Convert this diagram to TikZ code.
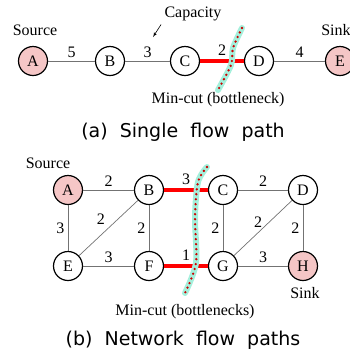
\documentclass[tikz,border=0pt]{standalone}
\usepackage{fontspec}
\setmainfont{Liberation Serif}
\newfontfamily\capfont[WordSpace=2]{DejaVu Sans}
\usetikzlibrary{arrows}
\definecolor{srcpink}{RGB}{245,198,198}
\definecolor{glow}{RGB}{165,240,220}
\tikzset{circ/.style = {draw, circle, line width = 1.2bp, inner sep = 0, minimum size = 29bp}}
\tikzset{src/.style = {circ, fill = srcpink}}
\tikzset{edge/.style = {draw = black!55, line width = 0.7bp}}
\tikzset{neck/.style = {draw = red, line width = 4.5bp}}
\tikzset{cutglow/.style = {draw = glow, line width = 6bp, line cap = round}}
\tikzset{cutdots/.style = {draw = red!80!black, line width = 2.6bp, line cap = round,
                           dash pattern = on 0pt off 5bp}}
\tikzset{capt/.style = {font = {\capfont\fontsize{19bp}{22bp}\selectfont}}}

\begin{document}
\begin{tikzpicture}[x = 1bp, y = -1bp, font = \fontsize{16bp}{19bp}\selectfont]
    \useasboundingbox (0, 0) rectangle (350, 353);
    % (a) single path
    \foreach \n/\x/\s in {A/33/src, B/110/circ, C/185/circ, D/259/circ, E/340/src} {
      \node [\s] (a\n) at (\x, 61) {\n};
    }
    \foreach \u/\v/\w in {A/B/5, B/C/3, D/E/4} {
      \draw [edge] (a\u) -- node [above] {\w} (a\v);
    }
    \draw [neck] (aC) -- node [above] {2} (aD);
    \draw [cutglow] plot [smooth] coordinates {(242, 28) (233, 48) (231, 65) (218, 90)};
    \draw [cutdots] plot [smooth] coordinates {(242, 28) (233, 48) (231, 65) (218, 90)};
    \node (srca) at (35, 30) {Source};
    \node (sinka) at (336, 30) {Sink};
    \node (cap) at (193, 14) {Capacity};
    \coordinate (captip) at (153, 37);
    \draw [-latex', line width = 0.6bp] (cap.south west) -- (captip);
    \node (cuta) at (218, 100) {Min-cut (bottleneck)};
    \node [capt] (capa) at (183, 132) {(a) Single flow path};
    % (b) network
    \foreach \n/\x/\y/\s in {A/68/190/src, B/149/190/circ, C/223/190/circ, D/303/190/circ,
                             E/68/266/circ, F/149/266/circ, G/223/266/circ, H/303/266/src} {
      \node [\s] (b\n) at (\x, \y) {\n};
    }
    \foreach \u/\v/\w/\p in {A/B/2/above, C/D/2/above, E/F/3/above, G/H/3/above,
                             A/E/3/left, B/F/2/left, C/G/2/left, D/H/2/left} {
      \draw [edge] (b\u) -- node [\p] {\w} (b\v);
    }
    \draw [edge] (bB) -- node [above left] {2} (bE);
    \draw [edge] (bD) -- node [above left, inner sep = 0.5bp] {2} (bG);
    \draw [neck] (bB) -- node [above] {3} (bC);
    \draw [neck] (bF) -- node [above] {1} (bG);
    \draw [cutglow] plot [smooth] coordinates {(207, 167) (198, 182) (195, 217) (196, 263) (185, 293)};
    \draw [cutdots] plot [smooth] coordinates {(207, 167) (198, 182) (195, 217) (196, 263) (185, 293)};
    \node (srcb) at (48, 163) {Source};
    \node (sinkb) at (305, 293) {Sink};
    \node (cutb) at (185, 312) {Min-cut (bottlenecks)};
    \node [capt] (capb) at (183, 340) {(b) Network flow paths};
  \end{tikzpicture}
\end{document}
